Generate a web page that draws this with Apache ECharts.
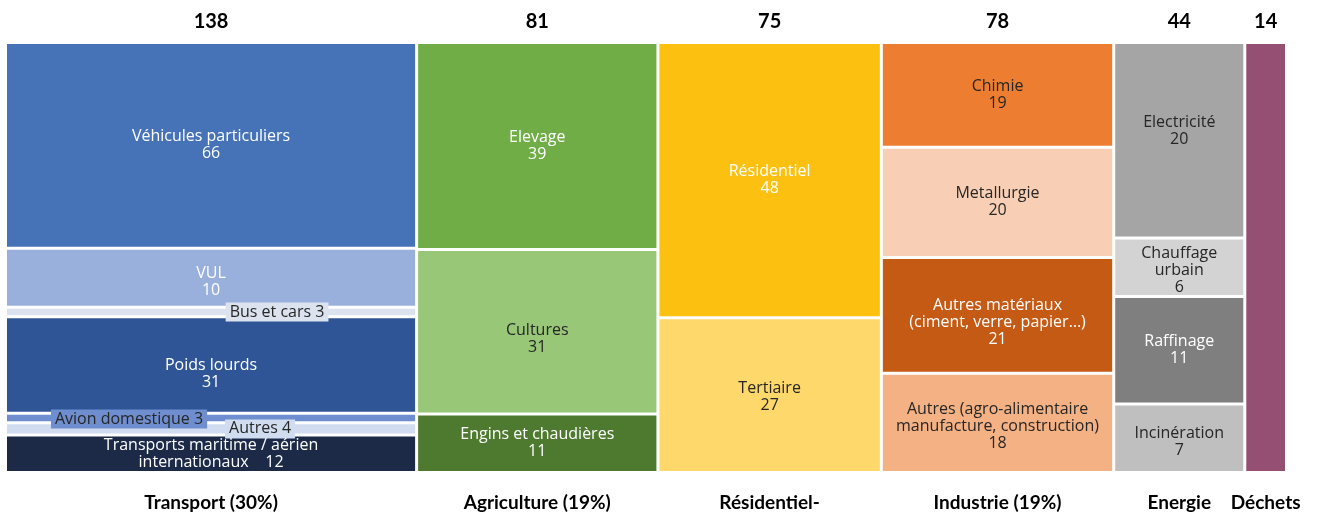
<!DOCTYPE html>
<html>
<head>
<meta charset="utf-8">
<script src="https://cdn.jsdelivr.net/npm/echarts@6/dist/echarts.min.js"></script>
<style>
html, body { margin: 0; padding: 0; background: #fff; }
#chart { width: 1323px; height: 512px; }
</style>
</head>
<body>
<div id="chart"></div>
<script>
// colonnes (secteurs)
const secteurs = ['Transport (30%)', 'Agriculture (19%)', 'Résidentiel-\ntertiaire (17%)', 'Industrie (19%)', 'Energie\n(10%)', 'Déchets\n(3%)'];

// sous-secteurs, du haut vers le bas
const transportNoms = ['Véhicules particuliers', 'VUL', 'Bus et cars', 'Poids lourds', 'Avion domestique', 'Autres', 'Transports maritime / aérien\ninternationaux'];
const transportValeurs = [66, 19, 3, 31, 3, 4, 12];
const transportEtiquettes = ['66', '10', '3', '31', '3', '4', '12']; // VUL affiché 10 dans l'original

const agricultureNoms = ['Elevage', 'Cultures', 'Engins et chaudières'];
const agricultureValeurs = [39, 31, 11];

const residentielNoms = ['Résidentiel', 'Tertiaire'];
const residentielValeurs = [48, 27];

const industrieNoms = ['Chimie', 'Metallurgie', 'Autres matériaux\n(ciment, verre, papier…)', 'Autres (agro-alimentaire\nmanufacture, construction)'];
const industrieValeurs = [19, 20, 21, 18];

const energieNoms = ['Electricité', 'Chauffage\nurbain', 'Raffinage', 'Incinération'];
const energieValeurs = [20, 6, 11, 7];

const dechetsNoms = [''];
const dechetsValeurs = [14];

// styles
const couleurs = [
  ['#4672B8', '#9AB0DC', '#DCE3EF', '#2F5597', '#6E8ED0', '#D0DCEF', '#1C2A48'],
  ['#70AD47', '#98C778', '#4E7A30'],
  ['#FBC010', '#FED86A'],
  ['#ED7D31', '#F8CFB5', '#C55A14', '#F4B183'],
  ['#A5A5A5', '#D3D3D3', '#7F7F7F', '#BFBFBF'],
  ['#954F72'],
];
const BLANC = '#ffffff';
const NOIR = '#262626';
const encres = [
  [BLANC, BLANC, NOIR, BLANC, NOIR, NOIR, BLANC],
  [BLANC, NOIR, BLANC],
  [BLANC, NOIR],
  [NOIR, NOIR, BLANC, NOIR],
  [NOIR, NOIR, BLANC, NOIR],
  [BLANC],
];
// petites étiquettes posées à côté
const etiquettesDecalees = {
  'Bus et cars': [66, 0],
  'Avion domestique': [-82, 1],
  'Autres': [49, 0],
};
// petits ajustements verticaux des étiquettes (comme dans l'original)
const decalagesY = {
  'VUL': 4, 'Poids lourds': 9, 'Cultures': 7, 'Tertiaire': 2,
  'Electricité': -9, 'Chauffage\nurbain': 3, 'Incinération': 4,
  'Autres matériaux\n(ciment, verre, papier…)': 7,
  'Autres (agro-alimentaire\nmanufacture, construction)': 4,
};
const GAP = 3;
const POLICE = 'Open Sans';

const groupes = [
  { noms: transportNoms, valeurs: transportValeurs, etiquettes: transportEtiquettes },
  { noms: agricultureNoms, valeurs: agricultureValeurs },
  { noms: residentielNoms, valeurs: residentielValeurs },
  { noms: industrieNoms, valeurs: industrieValeurs },
  { noms: energieNoms, valeurs: energieValeurs },
  { noms: dechetsNoms, valeurs: dechetsValeurs },
];

const cellules = [];
const colonnes = [];
let x = 0;
groupes.forEach((g, c) => {
  const total = g.valeurs.reduce((a, b) => a + b, 0);
  colonnes.push({ value: [x, x + total], total, nom: secteurs[c] });
  let cum = 0;
  g.valeurs.forEach((v, i) => {
    const nom = g.noms[i];
    const etiq = g.etiquettes ? g.etiquettes[i] : String(v);
    let texte = '';
    const decale = etiquettesDecalees[nom];
    if (nom === '') {
      texte = '';
    } else if (decale) {
      texte = `${nom} ${etiq}`;
    } else if (nom.indexOf('internationaux') >= 0) {
      texte = `${nom}    ${etiq}`;
    } else {
      texte = `${nom}\n${etiq}`;
    }
    cellules.push({
      value: [x, x + total, 1 - cum / total, 1 - (cum + v) / total],
      couleur: couleurs[c][i],
      encre: encres[c][i],
      texte,
      decale: !!decale,
      offset: decale || [0, decalagesY[nom] || 0],
    });
    cum += v;
  });
  x += total;
});

function renderCellule(params, api) {
  const meta = cellules[params.dataIndex];
  const p0 = api.coord([api.value(0), api.value(2)]);
  const p1 = api.coord([api.value(1), api.value(3)]);
  return {
    type: 'rect',
    shape: { x: p0[0], y: p0[1], width: p1[0] - p0[0] - GAP, height: p1[1] - p0[1] - GAP },
    style: { fill: meta.couleur },
    textContent: {
      style: {
        text: meta.texte,
        fill: meta.decale ? NOIR : meta.encre,
        fontFamily: POLICE,
        fontSize: 16,
        lineHeight: 17,
        align: 'center',
        backgroundColor: meta.decale ? meta.couleur : null,
        padding: meta.decale ? [1, 4, 1, 4] : 0,
      },
    },
    textConfig: { position: 'inside', offset: meta.offset },
  };
}

function renderColonne(params, api) {
  const meta = colonnes[params.dataIndex];
  const haut = api.coord([api.value(0), 1]);
  const bas = api.coord([api.value(1), 0]);
  const cx = (haut[0] + bas[0] - GAP) / 2;
  return {
    type: 'group',
    children: [
      {
        type: 'text',
        style: {
          x: cx, y: haut[1] - 22, text: String(meta.total), fill: '#000',
          fontFamily: 'Lato', fontWeight: 'bold', fontSize: 20,
          align: 'center', verticalAlign: 'middle',
        },
      },
      {
        type: 'text',
        style: {
          x: cx, y: bas[1] + 17, text: meta.nom, fill: '#000',
          fontFamily: 'Lato', fontWeight: 'bold', fontSize: 19, lineHeight: 24,
          align: 'center', verticalAlign: 'top',
        },
      },
    ],
  };
}

const myChart = echarts.init(document.getElementById('chart'));
myChart.setOption({
  animation: false,
  grid: { left: 7, right: 35, top: 44, bottom: 38 },
  xAxis: { type: 'value', min: 0, max: x, show: false },
  yAxis: { type: 'value', min: 0, max: 1, show: false },
  series: [
    { type: 'custom', renderItem: renderCellule, data: cellules.map((c) => c.value), clip: false },
    { type: 'custom', renderItem: renderColonne, data: colonnes.map((c) => c.value), clip: false },
  ],
});
</script>
</body>
</html>
